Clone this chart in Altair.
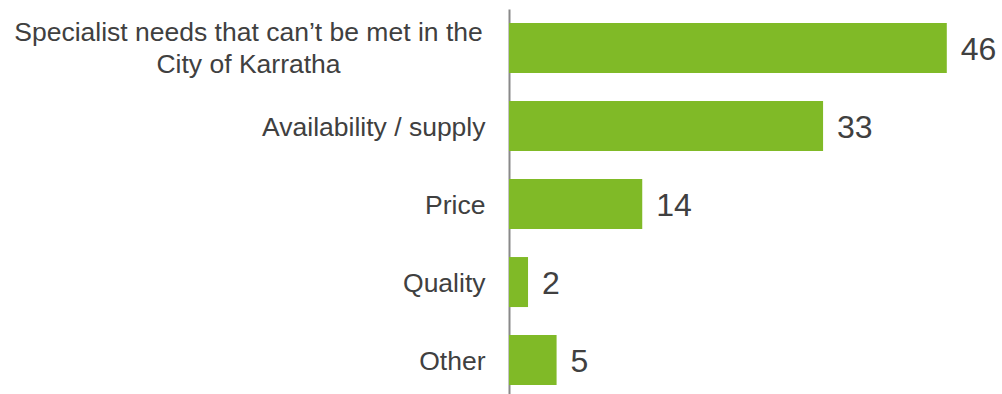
import altair as alt
import pandas as pd

# Data
categories = [
    "Specialist needs that can’t be met in the\nCity of Karratha",
    "Availability / supply",
    "Price",
    "Quality",
    "Other",
]
values = [46, 33, 14, 2, 5]

df = pd.DataFrame({"category": categories, "value": values})

FONT = "Liberation Sans"
TEXT = "#404040"
GREEN = "#80BA27"

y_enc = alt.Y(
    "category:N",
    sort=categories,
    title=None,
    scale=alt.Scale(paddingInner=0.359, paddingOuter=0.147, align=0.61),
    axis=alt.Axis(
        ticks=False,
        domainColor="#898989",
        domainWidth=2,
        labelFont=FONT,
        labelFontSize=26.5,
        labelColor=TEXT,
        labelPadding=24,
        labelAlign="right",
        labelLimit=0,
        labelOffset=2,
        labelExpr="indexof(datum.label, '\\n') >= 0 ? '' : datum.label",
    ),
)

x_scale = alt.Scale(domain=[0, 51.8], nice=False, zero=True)

base = alt.Chart(df)

bars = base.mark_bar(color=GREEN).encode(
    x=alt.X("value:Q", scale=x_scale, axis=None),
    y=y_enc,
)

values_text = base.mark_text(
    align="left", baseline="middle", dx=14, dy=2, font=FONT, fontSize=32, color=TEXT
).encode(
    x=alt.X("value:Q", scale=x_scale, axis=None),
    y=alt.Y("category:N", sort=categories),
    text=alt.Text("value:Q"),
)

long_label = base.transform_filter(
    "indexof(datum.category, '\\n') >= 0"
).mark_text(
    align="center",
    baseline="middle",
    lineBreak="\n",
    lineHeight=32,
    dx=-260.5,
    dy=-15,
    font=FONT,
    fontSize=26.5,
    color=TEXT,
).encode(
    x=alt.value(0),
    y=alt.Y("category:N", sort=categories),
    text="category:N",
)

chart = (
    alt.layer(bars, values_text, long_label)
    .properties(
        width=493,
        height=385,
        autosize=alt.AutoSizeParams(type="none"),
        padding={"left": 509, "top": 9, "right": 0, "bottom": 0},
        background="white",
    )
    .configure_view(stroke=None)
)

chart.save("out.html", embed_options={"renderer": "svg", "actions": False})
